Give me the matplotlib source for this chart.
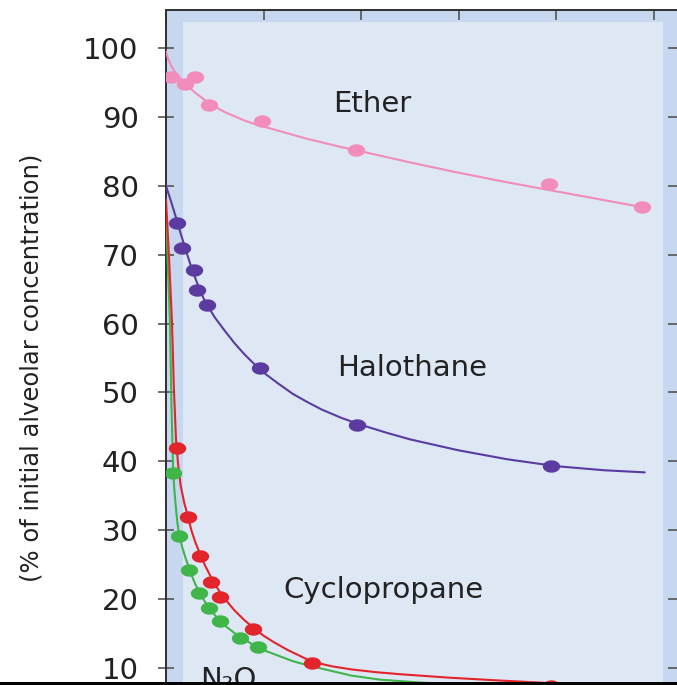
import numpy as np
import matplotlib
matplotlib.use('Agg')
import matplotlib.pyplot as plt
from matplotlib.path import Path
from matplotlib.patches import Rectangle

# ── Data (x in tick units, y in % of initial) ──
ether_x = [0.05, 0.195, 0.297, 0.441, 0.98, 1.95, 3.93, 4.88]
ether_y = [95.8, 94.8, 95.8, 91.7, 89.4, 85.2, 80.3, 76.9]
ether_cx = [0.0, 0.02, 0.05, 0.1, 0.2, 0.3, 0.45, 0.6, 0.7, 0.8, 0.9, 1.0, 1.15, 1.3, 1.45,
            1.6, 1.8, 2.0, 2.5, 3.0, 3.5, 4.0, 4.5, 4.88]
ether_cy = [99.5, 98.5, 97.5, 96.3, 94.8, 93.5, 91.9, 90.7, 90.1, 89.5, 89.0, 88.6, 88.0, 87.4, 86.8,
            86.3, 85.6, 85.0, 83.4, 81.9, 80.5, 79.2, 77.9, 76.9]

halo_x = [0.113, 0.164, 0.287, 0.318, 0.421, 0.964, 1.959, 3.949]
halo_y = [74.6, 71.0, 67.8, 64.9, 62.7, 53.6, 45.3, 39.3]
halo_cx = [0.0, 0.05, 0.1, 0.15, 0.2, 0.25, 0.3, 0.35, 0.4, 0.5, 0.6, 0.7, 0.8, 0.9, 1.0, 1.15,
           1.3, 1.45, 1.6, 1.8, 2.0, 2.25, 2.5, 2.75, 3.0, 3.5, 4.0, 4.5, 4.91]
halo_cy = [80.0, 77.8, 75.5, 73.1, 70.8, 68.6, 66.6, 64.8, 63.2, 60.9, 59.0, 57.2, 55.6, 54.2, 52.9, 51.3,
           49.8, 48.6, 47.5, 46.3, 45.3, 44.2, 43.2, 42.4, 41.6, 40.3, 39.3, 38.7, 38.4]

cyclo_x = [0.113, 0.226, 0.349, 0.462, 0.554, 0.892, 1.497, 3.949]
cyclo_y = [41.9, 31.9, 26.3, 22.5, 20.3, 15.7, 10.7, 7.4]
cyclo_cx = [0.0, 0.03, 0.062, 0.08, 0.103, 0.125, 0.15, 0.19, 0.226, 0.26, 0.3, 0.35, 0.4, 0.45,
            0.5, 0.55, 0.6, 0.7, 0.8, 0.9, 1.0, 1.1, 1.25, 1.5, 1.7, 1.9, 2.15, 2.4, 2.9, 3.4, 3.95, 4.9]
cyclo_cy = [78.0, 70.0, 60.0, 51.0, 43.0, 39.5, 36.5, 33.8, 32.0, 30.0, 28.3, 26.5, 24.9, 23.5,
            22.2, 21.1, 20.1, 18.4, 17.0, 15.8, 14.7, 13.8, 12.6, 10.9, 10.25, 9.8, 9.4, 9.1, 8.6, 8.2, 7.8, 7.3]

n2o_x = [0.072, 0.133, 0.236, 0.338, 0.441, 0.554, 0.759, 0.944]
n2o_y = [38.3, 29.2, 24.2, 20.9, 18.7, 16.8, 14.4, 13.1]
n2o_cx = [0.0, 0.02, 0.041, 0.055, 0.072, 0.085, 0.1, 0.115, 0.133, 0.165, 0.2, 0.25, 0.3, 0.35,
          0.4, 0.45, 0.5, 0.55, 0.6, 0.7, 0.8, 0.9, 1.0, 1.15, 1.3, 1.45, 1.6, 1.9, 2.2, 2.6, 3.5, 4.9]
n2o_cy = [76.0, 68.0, 60.0, 49.0, 39.0, 36.0, 33.5, 31.3, 29.5, 27.6, 26.0, 23.9, 22.2, 20.8,
          19.6, 18.6, 17.7, 16.9, 16.2, 15.1, 14.2, 13.3, 12.6, 11.8, 11.0, 10.4, 9.9, 8.9, 8.3, 7.9, 7.1, 6.4]

yticks = [10, 20, 30, 40, 50, 60, 70, 80, 90, 100]
xticks = [0, 1, 2, 3, 4, 5]

C_ETHER = '#f28cba'
C_HALO = '#5b3b9f'
C_CYCLO = '#e2242b'
C_N2O = '#3fb54a'
C_FRAME = '#c7d7ef'
C_INNER = '#dee7f4'

# ── Figure (axes runs past the right and bottom edges, like the crop) ──
W, H = 677, 685
fig = plt.figure(figsize=(W / 100, H / 100), dpi=100)
ax = fig.add_axes([166 / W, -15 / H, 514 / W, 690 / H])
ax.set_facecolor(C_FRAME)
ax.set_xlim(0, 514 / 97.5)
ax.set_ylim(10 - 32 / 6.89, 100 + 38 / 6.89)

# lighter inner panel
ax.add_patch(Rectangle((17 / 514, 0), 480 / 514, 678 / 690, transform=ax.transAxes,
                       facecolor=C_INNER, edgecolor='none', zorder=0))

# elliptic dots (the picture is stretched sideways)
t = np.linspace(0, 2 * np.pi, 41)
dot = Path(np.column_stack([1.4 * np.cos(t), np.sin(t)]), closed=True)

series = [
    (ether_cx, ether_cy, ether_x, ether_y, C_ETHER),
    (halo_cx, halo_cy, halo_x, halo_y, C_HALO),
    (n2o_cx, n2o_cy, n2o_x, n2o_y, C_N2O),
    (cyclo_cx, cyclo_cy, cyclo_x, cyclo_y, C_CYCLO),
]
for cx, cy, px, py, col in series:
    ax.plot(cx, cy, color=col, linewidth=1.5, zorder=3,
            solid_capstyle='round', solid_joinstyle='round')
    ax.plot(px, py, linestyle='none', marker=dot, markersize=12.5,
            markerfacecolor=col, markeredgewidth=0, zorder=4)

ax.text(2.12, 91.9, 'Ether', fontsize=21, ha='center', va='center', color='#222222')
ax.text(2.52, 53.6, 'Halothane', fontsize=21, ha='center', va='center', color='#222222')
ax.text(2.23, 21.3, 'Cyclopropane', fontsize=21, ha='center', va='center', color='#222222')
ax.text(0.35, 10.3, 'N₂O', fontsize=21, ha='left', va='top', color='#222222')

# ticks and spines
ax.set_yticks(yticks)
ax.set_yticklabels([str(v) for v in yticks])
ax.set_xticks(xticks)
ax.tick_params(axis='y', which='both', left=True, right=True, direction='out',
               length=11.5, width=1.2, color='#555555', labelsize=21, pad=14,
               labelcolor='#222222')
ax.tick_params(axis='y', which='both', right=True, direction='inout')
ax.tick_params(axis='x', which='both', bottom=False, top=True, labelbottom=False,
               direction='in', length=7.5, width=1.2, color='#555555')
for side in ['left', 'top']:
    ax.spines[side].set_color('#2f2f2f')
    ax.spines[side].set_linewidth(1.4)
ax.spines['bottom'].set_visible(False)
ax.spines['right'].set_visible(False)

# right side ticks drawn inward from the (cropped) right spine
for ln in ax.yaxis.get_ticklines()[1::2]:
    ln.set_markersize(17)

ax.set_ylabel('(% of initial alveolar concentration)', fontsize=17.5, color='#222222')
ax.yaxis.set_label_coords(-0.239, 0.481)

# dark strip along the bottom edge of the crop
fig.patches.append(Rectangle((0, 0), 1, 3 / H, transform=fig.transFigure,
                             facecolor='black', edgecolor='none', zorder=10))

plt.savefig('out.png', dpi=100)
